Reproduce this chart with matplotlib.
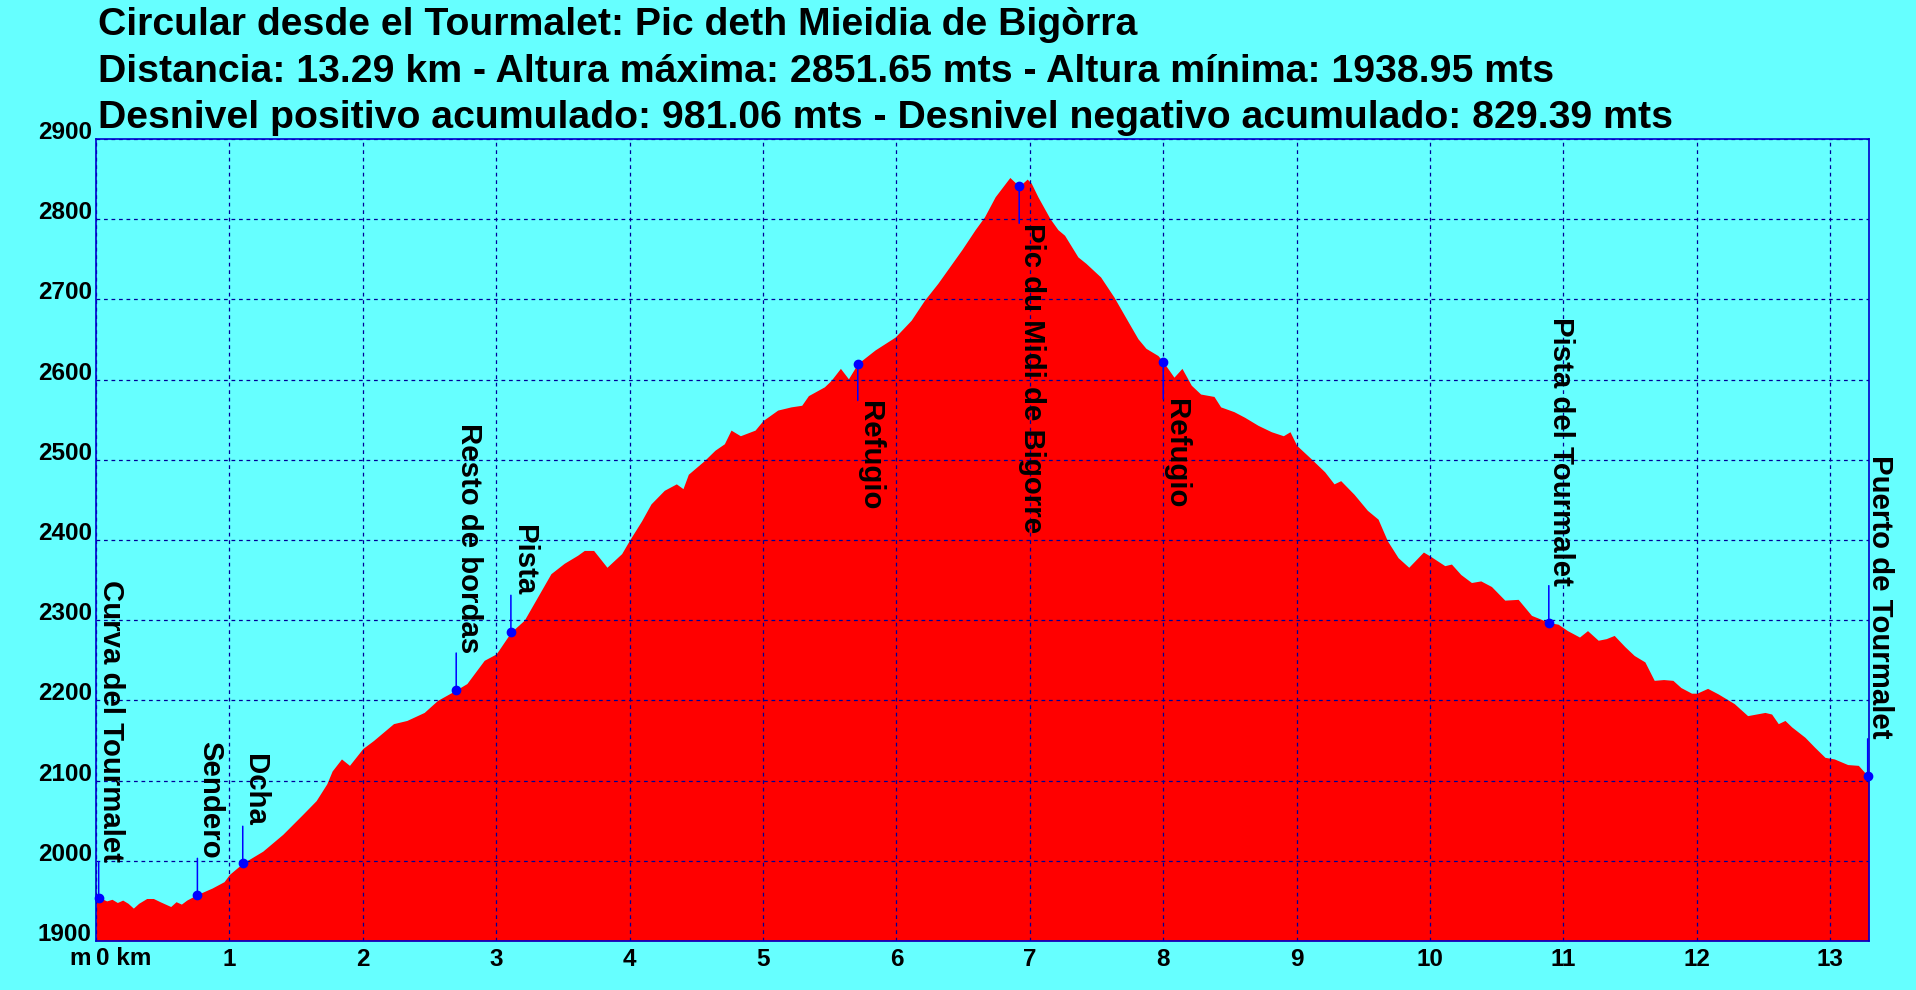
import matplotlib
matplotlib.use("Agg")
import matplotlib.pyplot as plt

# perfil: distancia (km) y altura (m)
km = [0.00, 0.04, 0.08, 0.12, 0.16, 0.20, 0.24, 0.28, 0.32, 0.38, 0.43, 0.48,
      0.56, 0.60, 0.64, 0.68, 0.76, 0.87,
      0.96, 1.00, 1.10, 1.25, 1.40, 1.55, 1.65, 1.73, 1.77, 1.84, 1.90, 2.00,
      2.08, 2.23, 2.33, 2.46, 2.56, 2.70, 2.78, 2.91, 3.00, 3.11, 3.21, 3.31,
      3.41, 3.51, 3.61, 3.66, 3.73, 3.83, 3.94, 4.00, 4.09, 4.16, 4.26, 4.35,
      4.40, 4.44, 4.56, 4.64, 4.71, 4.76, 4.83, 4.94, 5.00, 5.11, 5.21, 5.29,
      5.34, 5.46, 5.51, 5.58, 5.64, 5.71, 5.84, 5.99, 6.11, 6.21, 6.31, 6.40,
      6.49, 6.59, 6.66, 6.74, 6.85, 6.92, 6.98, 7.01, 7.06, 7.15, 7.21, 7.26,
      7.36, 7.42, 7.53, 7.63, 7.73, 7.81, 7.87, 7.96, 8.00, 8.08, 8.14, 8.21,
      8.28, 8.38, 8.43, 8.53, 8.61, 8.71, 8.81, 8.90, 8.95, 9.00, 9.11, 9.21,
      9.28, 9.33, 9.43, 9.53, 9.61, 9.68, 9.76, 9.84, 9.95, 10.00, 10.11, 10.16,
      10.23, 10.31, 10.38, 10.46, 10.56, 10.66, 10.76, 10.82, 10.89, 10.96,
      11.03, 11.12, 11.18, 11.26, 11.32, 11.38, 11.46, 11.53, 11.61, 11.68,
      11.75, 11.82, 11.88, 11.96, 12.00, 12.08, 12.16, 12.28, 12.38, 12.51,
      12.56, 12.61, 12.66, 12.71, 12.81, 12.88, 12.96, 13.03, 13.13, 13.21,
      13.28, 13.29]
altura = [1954, 1953, 1950, 1952, 1948, 1951, 1947, 1941, 1947, 1953, 1953, 1949,
          1943, 1949, 1946, 1951, 1958, 1966,
          1974, 1983, 1997, 2012, 2033, 2058, 2075, 2096, 2112, 2127, 2119, 2140,
          2150, 2171, 2175, 2185, 2200, 2213, 2221, 2250, 2258, 2285, 2300, 2329,
          2358, 2371, 2381, 2387, 2387, 2366, 2383, 2400, 2424, 2445, 2462, 2470,
          2464, 2482, 2499, 2512, 2520, 2537, 2530, 2537, 2549, 2562, 2566, 2568,
          2580, 2591, 2599, 2614, 2601, 2620, 2637, 2653, 2674, 2699, 2720, 2741,
          2762, 2787, 2803, 2828, 2852, 2841, 2850, 2845, 2828, 2801, 2787, 2780,
          2753, 2745, 2728, 2703, 2674, 2651, 2639, 2630, 2622, 2603, 2614, 2593,
          2582, 2579, 2566, 2560, 2553, 2543, 2535, 2530, 2535, 2518, 2501, 2485,
          2470, 2474, 2457, 2437, 2426, 2399, 2378, 2366, 2385, 2380, 2368, 2370,
          2357, 2347, 2349, 2342, 2325, 2326, 2306, 2302, 2297, 2295,
          2287, 2279, 2287, 2275, 2277, 2281, 2267, 2256, 2248, 2225,
          2226, 2225, 2216, 2209, 2209, 2215, 2208, 2196, 2181, 2185,
          2183, 2171, 2175, 2167, 2154, 2142, 2129, 2127, 2120, 2119,
          2106, 2106]

# puntos de paso
wp_km = [0.02, 0.76, 1.10, 2.70, 3.11, 5.71, 6.92, 8.00, 10.89, 13.28]
wp_alt = [1953, 1957, 1997, 2213, 2285, 2620, 2841, 2622, 2297, 2106]
wp_name = ["Curva del Tourmalet", "Sendero", "Dcha", "Resto de bordas", "Pista",
           "Refugio", "Pic du Midi de Bigorre", "Refugio", "Pista del Tourmalet",
           "Puerto de Tourmalet"]
wp_below = [False, False, False, False, False, True, True, True, False, False]

titulo = ["Circular desde el Tourmalet: Pic deth Mieidia de Bigòrra",
          "Distancia: 13.29 km - Altura máxima: 2851.65 mts - Altura mínima: 1938.95 mts",
          "Desnivel positivo acumulado: 981.06 mts - Desnivel negativo acumulado: 829.39 mts"]

fondo = "#66FFFF"
plt.rcParams["font.family"] = ["Liberation Sans", "DejaVu Sans"]
plt.rcParams["font.weight"] = "bold"

fig = plt.figure(figsize=(19.16, 9.90), dpi=100, facecolor=fondo)
ax = fig.add_axes([96 / 1916, 49 / 990, (1869 - 96) / 1916, (941 - 139) / 990])
ax.set_facecolor(fondo)

ax.fill_between(km, altura, 1900, color="#FF0000", lw=0, zorder=1)

ax.set_xlim(0, 13.29)
ax.set_ylim(1900, 2900)
ax.set_xticks(range(0, 14))
ax.set_xticklabels([""] + [str(i) for i in range(1, 14)])
ax.set_yticks(range(1900, 3000, 100))
ax.grid(True, color="#000099", lw=0.9, ls=(0, (3, 3)), zorder=2)
ax.set_axisbelow(False)
ax.tick_params(length=0, labelsize=17.5)
ax.tick_params(axis="x", pad=5)
ax.tick_params(axis="y", pad=3)
for lb in ax.get_yticklabels():
    lb.set_va("baseline")
    lb.set_fontweight("bold")
for lb in ax.get_xticklabels():
    lb.set_fontweight("bold")
for s in ax.spines.values():
    s.set_color("#0000CC")
    s.set_linewidth(1.2)
    s.set_zorder(5)

tr = ax.get_xaxis_transform()
ax.text(0, -0.0075, "0 km", transform=tr, ha="left", va="top", fontsize=17.5,
        fontweight="bold", clip_on=False)
ax.text(-0.04, -0.0075, "m", transform=tr, ha="right", va="top", fontsize=17.5,
        fontweight="bold", clip_on=False)

# puntos de paso con su etiqueta vertical
for x, y, name, below in zip(wp_km, wp_alt, wp_name, wp_below):
    off = -26.6 if below else 26.6
    ax.annotate("", xy=(x, y), xytext=(0, off), textcoords="offset points",
                arrowprops=dict(arrowstyle="-", color="#0000FF", lw=1.1,
                                shrinkA=0, shrinkB=0), zorder=6)
    ax.annotate(name, xy=(x, y), xytext=(-1, off), textcoords="offset points",
                rotation=270, ha="left", va="top" if below else "bottom",
                fontsize=21.2, fontweight="bold", color="black",
                annotation_clip=False, zorder=7)
    ax.plot([x], [y], "o", color="#0000FF", ms=6, zorder=8, clip_on=False)

for i, t in enumerate(titulo):
    fig.text(98 / 1916, 1 - (35 + 46.5 * i) / 990, t, ha="left", va="baseline",
             fontsize=28.3, fontweight="bold", color="black")

fig.savefig("out.png", dpi=100, facecolor=fondo)
